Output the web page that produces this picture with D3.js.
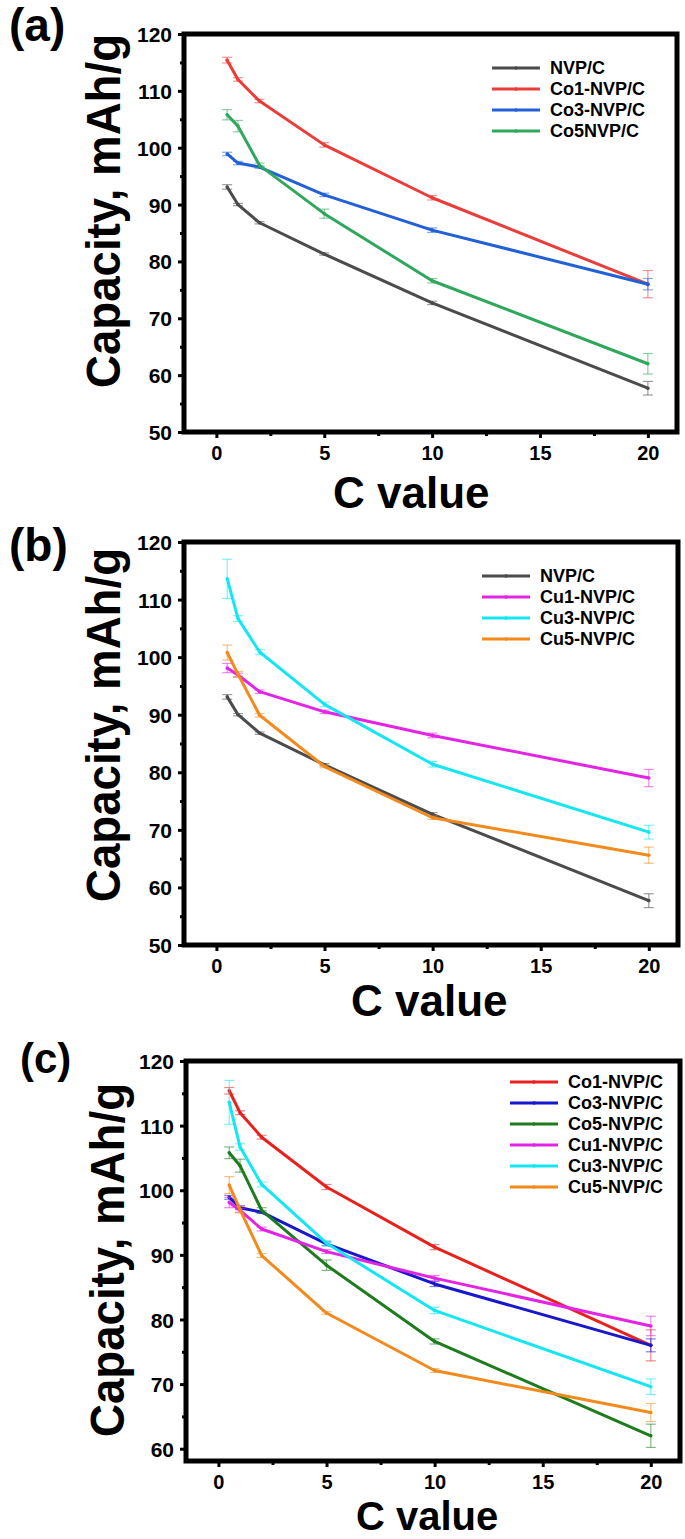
<!DOCTYPE html>
<html>
<head>
<meta charset="utf-8">
<script src="https://cdn.jsdelivr.net/npm/d3@7"></script>
<style>
  body { margin: 0; background: #fff; }
  svg text { font-family: "Liberation Sans", Arial, sans-serif; font-weight: bold; }
</style>
</head>
<body>
<div id="chart"></div>
<script>
// C rates (x values)
var cRates = [0.5, 1, 2, 5, 10, 20];

// capacities (mAh/g) and error half-widths
var nvpC    = [93.1, 90.0, 86.8, 81.3, 72.7, 57.7];
var nvpErr  = [0.4, 0.2, 0.2, 0.2, 0.3, 1.2];
var co1     = [115.4, 112.0, 108.2, 100.5, 91.2, 76.0];
var co1Err  = [0.5, 0.3, 0.3, 0.4, 0.4, 2.4];
var co3     = [98.9, 97.3, 96.6, 91.7, 85.5, 76.0];
var co3Err  = [0.3, 0.3, 0.2, 0.3, 0.4, 1.0];
var co5     = [105.8, 103.8, 96.9, 88.4, 76.6, 62.0];
var co5Err  = [0.9, 1.0, 0.4, 0.8, 0.4, 1.8];
var cu1     = [98.1, 96.9, 94.0, 90.5, 86.4, 79.0];
var cu1Err  = [0.8, 0.3, 0.3, 0.3, 0.4, 1.5];
var cu3     = [113.6, 106.7, 100.9, 91.8, 81.4, 69.6];
var cu3Err  = [3.4, 0.5, 0.4, 0.4, 0.5, 1.2];
var cu5     = [100.8, 97.0, 89.9, 81.0, 72.1, 65.6];
var cu5Err  = [1.3, 0.5, 0.3, 0.2, 0.3, 1.4];

// tick values
var xTicks = [0, 5, 10, 15, 20];
var xMinor = [2.5, 7.5, 12.5, 17.5];
var yTicksAB = [50, 60, 70, 80, 90, 100, 110, 120];
var yTicksC  = [60, 70, 80, 90, 100, 110, 120];

var w = 685, h = 1539;

var svg = d3.select("#chart").append("svg")
    .attr("width", w)
    .attr("height", h);

// panel layouts
var panels = [
  {
    label: "(a)", labelX: 9, labelY: 41, labelSize: 46,
    left: 184, right: 677, top: 34, bottom: 432,
    yDomain: [50, 120], yTicks: yTicksAB,
    titleX: 120, titleY: 388, xTitleX: 333, xTitleY: 508, xTitleSize: 44,
    legX: 492, legY: 68,
    series: [
      { name: "NVP/C",     vals: nvpC, err: nvpErr, color: "#4b4b4b" },
      { name: "Co1-NVP/C", vals: co1,  err: co1Err, color: "#ea3d3a" },
      { name: "Co3-NVP/C", vals: co3,  err: co3Err, color: "#2260d8" },
      { name: "Co5NVP/C",  vals: co5,  err: co5Err, color: "#2fa75c" }
    ]
  },
  {
    label: "(b)", labelX: 9, labelY: 561, labelSize: 46,
    left: 184, right: 678, top: 542, bottom: 945,
    yDomain: [50, 120], yTicks: yTicksAB,
    titleX: 120, titleY: 902, xTitleX: 351, xTitleY: 1016, xTitleSize: 44,
    legX: 482, legY: 576,
    series: [
      { name: "NVP/C",     vals: nvpC, err: nvpErr, color: "#4b4b4b" },
      { name: "Cu1-NVP/C", vals: cu1,  err: cu1Err, color: "#e424e4" },
      { name: "Cu3-NVP/C", vals: cu3,  err: cu3Err, color: "#14e6f2" },
      { name: "Cu5-NVP/C", vals: cu5,  err: cu5Err, color: "#f28a1c" }
    ]
  },
  {
    label: "(c)", labelX: 20, labelY: 1073, labelSize: 42,
    left: 186, right: 680, top: 1061, bottom: 1461,
    yDomain: [58.1, 120], yTicks: yTicksC,
    titleX: 124, titleY: 1437, xTitleX: 356, xTitleY: 1530, xTitleSize: 40,
    legX: 510, legY: 1082,
    series: [
      { name: "Co1-NVP/C", vals: co1, err: co1Err, color: "#e8211f" },
      { name: "Co3-NVP/C", vals: co3, err: co3Err, color: "#1717cc" },
      { name: "Co5-NVP/C", vals: co5, err: co5Err, color: "#1e7b1e" },
      { name: "Cu1-NVP/C", vals: cu1, err: cu1Err, color: "#e424e4" },
      { name: "Cu3-NVP/C", vals: cu3, err: cu3Err, color: "#14e6f2" },
      { name: "Cu5-NVP/C", vals: cu5, err: cu5Err, color: "#f28a1c" }
    ]
  }
];

panels.forEach(drawPanel);

function drawPanel(p) {
  var x = d3.scaleLinear().domain([-1.5, 21.35]).range([p.left, p.right]);
  var y = d3.scaleLinear().domain(p.yDomain).range([p.bottom, p.top]);

  var g = svg.append("g");

  // minor ticks
  var yMinor = d3.range(55, 120, 10).filter(function(v) { return v > p.yDomain[0]; });
  g.append("g")
      .attr("transform", "translate(0," + p.bottom + ")")
      .call(d3.axisBottom(x).tickValues(xMinor).tickSize(4).tickFormat(""))
      .call(styleAxis);
  g.append("g")
      .attr("transform", "translate(" + p.left + ",0)")
      .call(d3.axisLeft(y).tickValues(yMinor).tickSize(4).tickFormat(""))
      .call(styleAxis);

  // major ticks + labels
  g.append("g")
      .attr("transform", "translate(0," + p.bottom + ")")
      .call(d3.axisBottom(x).tickValues(xTicks).tickSize(6).tickPadding(8))
      .call(styleAxis)
      .selectAll("text").attr("font-size", 20);
  g.append("g")
      .attr("transform", "translate(" + p.left + ",0)")
      .call(d3.axisLeft(y).tickValues(p.yTicks).tickSize(6).tickPadding(6))
      .call(styleAxis)
      .selectAll("text").attr("font-size", 21).attr("dy", "0.36em");

  // frame
  g.append("rect")
      .attr("x", p.left)
      .attr("y", p.top)
      .attr("width", p.right - p.left)
      .attr("height", p.bottom - p.top)
      .attr("fill", "none")
      .attr("stroke", "#000")
      .attr("stroke-width", 5);

  var line = d3.line()
      .x(function(d) { return x(d.c); })
      .y(function(d) { return y(d.v); });

  p.series.forEach(function(s) {
    var pts = cRates.map(function(c, i) { return { c: c, v: s.vals[i], e: s.err[i] }; });

    // error bars
    var eb = g.append("g")
        .attr("stroke", s.color)
        .attr("stroke-opacity", 0.55)
        .attr("stroke-width", 1.2);
    pts.forEach(function(d) {
      eb.append("line")
          .attr("x1", x(d.c)).attr("x2", x(d.c))
          .attr("y1", y(d.v - d.e)).attr("y2", y(d.v + d.e));
      [d.v - d.e, d.v + d.e].forEach(function(v) {
        eb.append("line")
            .attr("x1", x(d.c) - 5).attr("x2", x(d.c) + 5)
            .attr("y1", y(v)).attr("y2", y(v));
      });
    });

    g.append("path")
        .datum(pts)
        .attr("d", line)
        .attr("fill", "none")
        .attr("stroke", s.color)
        .attr("stroke-width", 3)
        .attr("stroke-linejoin", "round");

    // small point markers
    g.selectAll(null)
        .data(pts)
        .enter()
        .append("circle")
        .attr("cx", function(d) { return x(d.c); })
        .attr("cy", function(d) { return y(d.v); })
        .attr("r", 1.8)
        .attr("fill", s.color);
  });

  // legend
  var leg = g.append("g");
  p.series.forEach(function(s, i) {
    var ly = p.legY + i * 21;
    leg.append("line")
        .attr("x1", p.legX).attr("x2", p.legX + 48)
        .attr("y1", ly).attr("y2", ly)
        .attr("stroke", s.color)
        .attr("stroke-width", 3);
    leg.append("circle")
        .attr("cx", p.legX + 24).attr("cy", ly).attr("r", 1.8)
        .attr("fill", s.color);
    leg.append("text")
        .attr("x", p.legX + 58)
        .attr("y", ly)
        .attr("dy", "0.36em")
        .attr("font-size", 18)
        .text(s.name);
  });

  // titles
  g.append("text")
      .attr("transform", "translate(" + p.titleX + "," + p.titleY + ") rotate(-90)")
      .attr("font-size", 48)
      .attr("textLength", 354)
      .attr("lengthAdjust", "spacingAndGlyphs")
      .text("Capacity, mAh/g");

  g.append("text")
      .attr("x", p.xTitleX)
      .attr("y", p.xTitleY)
      .attr("font-size", p.xTitleSize)
      .text("C value");

  g.append("text")
      .attr("x", p.labelX)
      .attr("y", p.labelY)
      .attr("font-size", p.labelSize)
      .text(p.label);
}

function styleAxis(sel) {
  sel.select(".domain").remove();
  sel.selectAll(".tick line").attr("stroke", "#000").attr("stroke-width", 3);
  sel.selectAll(".tick text")
      .attr("fill", "#000")
      .style("font-family", "'Liberation Sans', Arial, sans-serif")
      .style("font-weight", "bold");
}
</script>
</body>
</html>
